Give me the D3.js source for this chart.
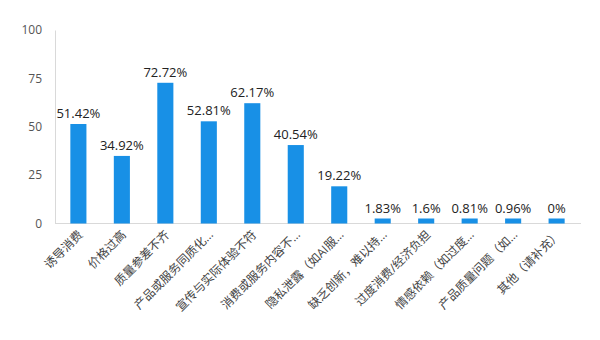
<!DOCTYPE html>
<html>
<head>
<meta charset="utf-8">
<script src="https://cdn.jsdelivr.net/npm/d3@7"></script>
<style>
  html, body { margin: 0; padding: 0; background: #fff; }
  svg { display: block; }
</style>
</head>
<body>
<svg id="chart" width="600" height="340"></svg>
<script>
// Survey categories (long names are cut with an ellipsis)
const categories = [
  "诱导消费", "价格过高", "质量参差不齐", "产品或服务同质化…",
  "宣传与实际体验不符", "消费或服务内容不…", "隐私泄露（如AI服…",
  "缺乏创新，难以持…", "过度消费/经济负担", "情感依赖（如过度…",
  "产品质量问题（如…", "其他（请补充）"
];
// Share of respondents, percent
const values = [51.42, 34.92, 72.72, 52.81, 62.17, 40.54, 19.22, 1.83, 1.6, 0.81, 0.96, 0];
const yTicks = [0, 25, 50, 75, 100];

const svg = d3.select("#chart");
const margin = { left: 55, right: 21, top: 30, bottom: 116 };
const W = 600, H = 340;
const font = "'Open Sans', 'Noto Sans CJK SC', sans-serif";
const barColor = "#1890e6";
const minBarHeight = 5;

const x = d3.scaleBand()
  .domain(categories)
  .range([margin.left + 1, W - margin.right])
  .paddingInner(0.63)
  .paddingOuter(0.33);

const y = d3.scaleLinear()
  .domain([0, 100])
  .range([H - margin.bottom - 0.5, margin.top]);

// Y axis: labels plus a thin vertical line
const yAxis = svg.append("g")
  .attr("transform", `translate(${margin.left},0)`)
  .call(d3.axisLeft(y).tickValues(yTicks).tickSize(0).tickPadding(13));
yAxis.select(".domain").attr("stroke", "#d9d9d9");
yAxis.selectAll("text")
  .attr("font-family", font)
  .attr("font-size", 12)
  .attr("fill", "#555");

// X axis baseline and rotated category labels
const xAxis = svg.append("g")
  .attr("transform", `translate(0,${y(0)})`)
  .call(d3.axisBottom(x).tickSize(0).tickPadding(0));
xAxis.select(".domain").attr("stroke", "#d9d9d9")
  .attr("d", `M${margin.left},0H${W - margin.right + 2}`);
xAxis.selectAll("text")
  .attr("font-family", font)
  .attr("font-size", 12)
  .attr("fill", "#444")
  .attr("text-anchor", "end")
  .attr("dy", 0)
  .attr("transform", "translate(5,12) rotate(-45)");

// Bars (tiny values keep a small visible height)
const barH = v => Math.max(y(0) - y(v), minBarHeight);
svg.append("g").selectAll("rect")
  .data(values)
  .join("rect")
  .attr("x", (d, i) => x(categories[i]))
  .attr("width", x.bandwidth())
  .attr("y", d => y(0) - barH(d))
  .attr("height", d => barH(d))
  .attr("fill", barColor);

// Value labels above bars
svg.append("g").selectAll("text")
  .data(values)
  .join("text")
  .attr("x", (d, i) => x(categories[i]) + x.bandwidth() / 2)
  .attr("y", d => y(0) - barH(d) - 6)
  .attr("text-anchor", "middle")
  .attr("font-family", font)
  .attr("font-size", 13)
  .attr("fill", "#222")
  .text(d => d + "%");
</script>
</body>
</html>
